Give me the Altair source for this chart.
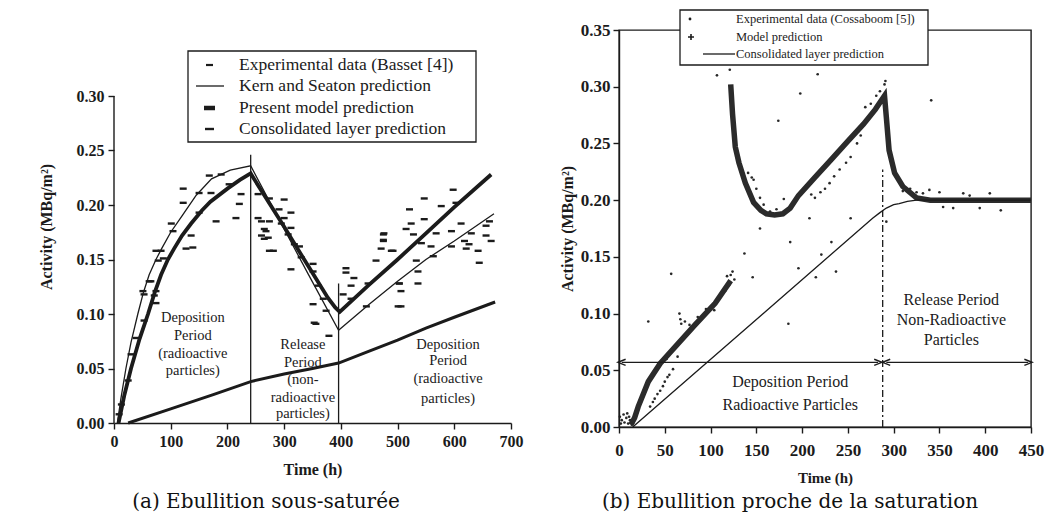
import altair as alt
import pandas as pd

FONT = "Liberation Serif"
CAP_FONT = "DejaVu Serif"
INK = "#1b1b1b"

# ---------------- (a) Ebullition sous-saturee ----------------
kern_t = [6, 12, 21, 30, 42, 52, 62, 74, 84, 100, 120, 145, 172, 205, 241, 300, 342, 396, 450, 500, 550, 600, 670]
kern_v = [0.0, 0.022, 0.05, 0.074, 0.10, 0.12, 0.136, 0.15, 0.16, 0.175, 0.19, 0.209, 0.224, 0.232, 0.236,
          0.178, 0.137, 0.085, 0.109, 0.130, 0.150, 0.167, 0.192]

model_a_t = [8, 18, 30, 45, 60, 72, 83, 95, 106, 120, 136, 155, 170, 200, 222, 241, 260, 300, 340, 377, 390, 398,
             450, 500, 550, 600, 665]
model_a_v = [0.0, 0.025, 0.05, 0.077, 0.10, 0.12, 0.136, 0.15, 0.16, 0.172, 0.183, 0.195, 0.203, 0.215, 0.223, 0.229,
             0.213, 0.180, 0.146, 0.115, 0.106, 0.102, 0.127, 0.150, 0.174, 0.198, 0.228]

layer_a_t = [25, 100, 175, 241, 300, 350, 396, 450, 500, 550, 600, 672]
layer_a_v = [0.0, 0.013, 0.026, 0.038, 0.045, 0.05, 0.055, 0.066, 0.076, 0.087, 0.097, 0.111]

exp_a_t = [122, 150, 168, 189, 203, 171, 122, 150, 180, 215, 221, 224, 136, 139, 127, 101, 104, 83, 78, 65, 51, 71,
           254, 254, 268, 265, 274,
           74, 87, 62, 74, 53, 74, 53, 39, 30, 25, 13, 9,
           274, 300, 291, 312, 260, 274, 300, 295, 312, 265, 260, 307, 272, 281, 318, 327, 330, 351, 351, 312, 360,
           369, 351, 374, 356, 409, 409, 423, 418, 404, 418, 448, 475, 475, 471, 489, 462, 445, 503, 501,
           598, 547, 521, 577, 603, 547, 612, 524, 515, 476, 475, 528, 568, 595, 630, 656, 665, 662, 656, 618, 626,
           595, 559, 542, 492, 621, 642, 563, 644, 533, 536, 536, 506, 506, 503, 353, 379]
exp_a_v = [0.215, 0.211, 0.227, 0.228, 0.219, 0.211, 0.202, 0.193, 0.185, 0.188, 0.201, 0.21, 0.172, 0.161, 0.16,
           0.183, 0.176, 0.158, 0.149, 0.13, 0.121, 0.117,
           0.21, 0.188, 0.176, 0.169, 0.158,
           0.158, 0.151, 0.13, 0.121, 0.118, 0.11, 0.094, 0.078, 0.063, 0.039, 0.017, 0.008,
           0.206, 0.205, 0.196, 0.193, 0.185, 0.185, 0.188, 0.183, 0.179, 0.178, 0.172, 0.173, 0.17, 0.158, 0.164,
           0.162, 0.152, 0.146, 0.139, 0.141, 0.126, 0.114, 0.109, 0.103, 0.091, 0.142, 0.138, 0.133, 0.126, 0.118,
           0.114, 0.128, 0.173, 0.167, 0.16, 0.158, 0.149, 0.107, 0.128, 0.107,
           0.214, 0.206, 0.196, 0.199, 0.202, 0.187, 0.183, 0.183, 0.178, 0.174, 0.168, 0.173, 0.174, 0.176, 0.174,
           0.172, 0.167, 0.185, 0.181, 0.167, 0.164, 0.162, 0.162, 0.165, 0.158, 0.16, 0.158, 0.153, 0.147, 0.149,
           0.139, 0.128, 0.121, 0.107, 0.128, 0.092, 0.08]

period_a_t = [241, 396]
period_a_top = [0.246, 0.128]

notes_a_text = ["Deposition", "Period", "(radioactive", "particles)",
                "Release", "Period", "(non-", "radioactive", "particles)",
                "Deposition", "Period", "(radioactive", "particles)"]
notes_a_t = [139, 139, 139, 139, 333, 333, 333, 333, 333, 589, 589, 589, 589]
notes_a_v = [0.096, 0.080, 0.063, 0.048, 0.072, 0.055, 0.039, 0.023, 0.008, 0.072, 0.057, 0.040, 0.022]

legend_a = ["Experimental data (Basset [4])", "Kern and Seaton prediction",
            "Present model prediction", "Consolidated layer prediction"]
xticks_a = [0, 100, 200, 300, 400, 500, 600, 700]
yticks_a = [0.0, 0.05, 0.10, 0.15, 0.20, 0.25, 0.30]
caption_a = "(a) Ebullition sous-saturée"

# ---------------- (b) Ebullition proche de la saturation ----------------
model_b_seg = ["1"] * 10 + ["2"] * 27
model_b_t = [13, 17, 21, 26, 32, 45, 64, 83, 105, 122,
             122, 124, 127, 131, 138, 147, 155, 161, 170, 179, 187, 196, 214, 232, 250, 267, 280, 290,
             292, 295, 301, 310, 325, 340, 350, 400, 450]
model_b_v = [0.002, 0.008, 0.018, 0.028, 0.04, 0.056, 0.073, 0.09, 0.109, 0.129,
             0.302, 0.276, 0.247, 0.233, 0.215, 0.198, 0.191, 0.188, 0.187, 0.188, 0.193, 0.204, 0.220, 0.236,
             0.252, 0.267, 0.280, 0.292,
             0.273, 0.244, 0.224, 0.212, 0.202, 0.200, 0.200, 0.200, 0.200]

layer_b_t = [15, 277, 285, 292, 300, 306, 315, 325, 340, 450]
layer_b_v = [0.0, 0.184, 0.189, 0.193, 0.196, 0.197, 0.199, 0.20, 0.20, 0.20]

exp_b_t = [1, 3, 5, 6, 8, 10, 12, 14, 16, 2, 9, 11,
           34, 37, 39, 42, 45, 48, 50, 53, 55, 59, 64, 52,
           66, 67, 68, 72, 77, 86, 95, 104, 110, 116, 120, 122, 124, 126, 118,
           141, 145, 147, 150, 154, 158, 165, 172, 180, 187, 203, 210, 214, 220, 225, 230, 235, 241, 248, 253, 260,
           264, 269, 275, 281, 285, 290, 291,
           325, 332, 339, 350, 365, 376, 383, 394, 405, 417, 354, 310, 318,
           121, 198, 341, 217, 174, 154, 208, 253, 232, 187, 292, 221, 57, 146, 32, 185, 196, 215, 237, 137, 107]
exp_b_v = [0.009, 0.006, 0.011, 0.004, 0.008, 0.003, 0.006, 0.002, 0.004, 0.003, 0.012, 0.009,
           0.018, 0.022, 0.025, 0.029, 0.032, 0.036, 0.04, 0.044, 0.046, 0.051, 0.062, 0.06,
           0.1, 0.095, 0.091, 0.093, 0.09, 0.097, 0.104, 0.103, 0.115, 0.12, 0.125, 0.134, 0.137, 0.130, 0.133,
           0.224, 0.22, 0.218, 0.21, 0.202, 0.196, 0.19, 0.192, 0.201, 0.192, 0.211, 0.205, 0.202, 0.207, 0.21,
           0.215, 0.221, 0.227, 0.233, 0.238, 0.25, 0.257, 0.282, 0.285, 0.292, 0.296, 0.302, 0.305,
           0.207, 0.206, 0.209, 0.207, 0.193, 0.206, 0.204, 0.193, 0.206, 0.191, 0.194, 0.208, 0.21,
           0.315, 0.294, 0.288, 0.311, 0.27, 0.175, 0.184, 0.184, 0.163, 0.163, 0.181, 0.152, 0.135, 0.132, 0.093,
           0.091, 0.14, 0.132, 0.137, 0.153, 0.31]

boundary_b_t = [288]
boundary_b_top = [0.227]
arrow_b_start = [3, 292]
arrow_b_end = [283, 447]
arrow_b_v = [0.057, 0.057]

notes_b_text = ["Deposition Period", "Radioactive Particles", "Release Period", "Non-Radioactive", "Particles"]
notes_b_t = [187, 187, 363, 363, 363]
notes_b_v = [0.040, 0.019, 0.112, 0.094, 0.077]

legend_b = ["Experimental data (Cossaboom [5])", "Model prediction", "Consolidated layer prediction"]
xticks_b = [0, 50, 100, 150, 200, 250, 300, 350, 400, 450]
yticks_b = [0.0, 0.05, 0.10, 0.15, 0.20, 0.25, 0.30, 0.35]
caption_b = "(b) Ebullition proche de la saturation"

one = pd.DataFrame({"k": [0]})


def axis(values, title, fmt, lsize, tsize, lpad, tpad, domain=True):
    return alt.Axis(values=values, title=title, format=fmt, grid=False, labelFont=FONT, titleFont=FONT,
                    labelFontSize=lsize, titleFontSize=tsize, labelFontWeight="bold", titleFontWeight="bold",
                    labelColor=INK, titleColor=INK, domain=domain, domainColor=INK, tickColor=INK,
                    domainWidth=1.4, tickWidth=1.4, tickSize=6, labelPadding=lpad, titlePadding=tpad,
                    labelFlush=False, labelOverlap=False)


# ---------------- panel (a) ----------------
# plot area shares its top with panel (b); the value axis stops at its last tick
H_A = 393
Y_TOP_A = yticks_a[-1] * H_A / 327
XA = alt.X("t:Q", scale=alt.Scale(domain=[0, 700], nice=False),
           axis=axis(xticks_a, "Time (h)", "d", 16, 16, 4, 12))
YA = alt.Y("v:Q", scale=alt.Scale(domain=[0, Y_TOP_A], nice=False),
           axis=axis(yticks_a, "Activity (MBq/m²)", ".2f", 16, 16, 4, 22, domain=False))

kern_df = pd.DataFrame({"t": kern_t, "v": kern_v})
model_a_df = pd.DataFrame({"t": model_a_t, "v": model_a_v})
layer_a_df = pd.DataFrame({"t": layer_a_t, "v": layer_a_v})
exp_a_df = pd.DataFrame({"t": exp_a_t, "v": exp_a_v})
period_a_df = pd.DataFrame({"t": period_a_t, "v": [0.0] * len(period_a_t), "v2": period_a_top})
notes_a_df = pd.DataFrame({"t": notes_a_t, "v": notes_a_v, "txt": notes_a_text})
yaxis_a_df = pd.DataFrame({"t": [xticks_a[0]], "v": [yticks_a[0]], "v2": [yticks_a[-1]]})

DASH = "M-1,0L1,0"
OFF = 66  # vertical offset of panel (a) decorations
la = []
la.append(alt.Chart(one).mark_rect(fill="white", stroke=INK, strokeWidth=1.3).encode(
    x=alt.value(74), x2=alt.value(362), y=alt.value(-45 + OFF), y2=alt.value(46 + OFF)))
la.append(alt.Chart(yaxis_a_df).mark_rule(color=INK, strokeWidth=1.4).encode(x=XA, y=YA, y2="v2:Q"))
la.append(alt.Chart(exp_a_df).mark_point(shape=DASH, filled=False, color=INK, strokeWidth=2.4, size=49,
                                         opacity=1).encode(x=XA, y=YA))
la.append(alt.Chart(kern_df).mark_line(color=INK, strokeWidth=1.3).encode(x=XA, y=YA))
la.append(alt.Chart(model_a_df).mark_line(color=INK, strokeWidth=3.8).encode(x=XA, y=YA))
la.append(alt.Chart(layer_a_df).mark_line(color=INK, strokeWidth=3.0).encode(x=XA, y=YA))
la.append(alt.Chart(period_a_df).mark_rule(color=INK, strokeWidth=1.3).encode(x=XA, y=YA, y2="v2:Q"))
la.append(alt.Chart(notes_a_df).mark_text(font=FONT, fontSize=14.5, color=INK, align="center",
                                          baseline="middle").encode(x=XA, y=YA, text="txt:N"))
# legend entries
rows_a = [-31 + OFF, -10 + OFF, 12 + OFF, 33 + OFF]
la.append(alt.Chart(one).mark_rule(color=INK, strokeWidth=2.2).encode(
    x=alt.value(92), x2=alt.value(99), y=alt.value(rows_a[0])))
la.append(alt.Chart(one).mark_rule(color=INK, strokeWidth=1.3).encode(
    x=alt.value(82), x2=alt.value(110), y=alt.value(rows_a[1])))
la.append(alt.Chart(one).mark_rule(color=INK, strokeWidth=4.5).encode(
    x=alt.value(90), x2=alt.value(101), y=alt.value(rows_a[2])))
la.append(alt.Chart(one).mark_rule(color=INK, strokeWidth=2.4).encode(
    x=alt.value(91), x2=alt.value(100), y=alt.value(rows_a[3])))
for lab, ry in zip(legend_a, rows_a):
    la.append(alt.Chart(one).mark_text(text=lab, font=FONT, fontSize=17.5, color=INK, align="left",
                                       baseline="middle").encode(x=alt.value(125), y=alt.value(ry)))
# layout anchors (invisible)
la.append(alt.Chart(one).mark_rule(color="white", strokeWidth=0.5).encode(
    x=alt.value(-105), y=alt.value(60), y2=alt.value(66)))
la.append(alt.Chart(one).mark_rule(color="white", strokeWidth=0.5).encode(
    x=alt.value(427), y=alt.value(60), y2=alt.value(66)))
la.append(alt.Chart(one).mark_text(text=caption_a, font=CAP_FONT, fontSize=20, color="#111111",
                                   align="center", baseline="middle").encode(
    x=alt.value(152), y=alt.value(406 + OFF)))

left = alt.layer(*la).properties(width=397, height=H_A, view=alt.ViewBackground(stroke="transparent"))

# ---------------- panel (b) ----------------
XB = alt.X("t:Q", scale=alt.Scale(domain=[0, 450], nice=False),
           axis=axis(xticks_b, "Time (h)", "d", 17, 15, 9, 12))
YB = alt.Y("v:Q", scale=alt.Scale(domain=[0, 0.35], nice=False),
           axis=axis(yticks_b, "Activity (MBq/m²)", ".2f", 17, 16, 3, 5))

model_b_df = pd.DataFrame({"t": model_b_t, "v": model_b_v, "seg": model_b_seg})
layer_b_df = pd.DataFrame({"t": layer_b_t, "v": layer_b_v})
exp_b_df = pd.DataFrame({"t": exp_b_t, "v": exp_b_v})
boundary_df = pd.DataFrame({"t": boundary_b_t, "v": [0.0], "v2": boundary_b_top})
arrow_df = pd.DataFrame({"t": arrow_b_start, "t2": arrow_b_end, "v": arrow_b_v})
head_l = pd.DataFrame({"t": arrow_b_start, "v": arrow_b_v})
head_r = pd.DataFrame({"t": arrow_b_end, "v": arrow_b_v})
notes_b_df = pd.DataFrame({"t": notes_b_t, "v": notes_b_v, "txt": notes_b_text})

lb = []
lb.append(alt.Chart(one).mark_rect(fill="white", stroke=INK, strokeWidth=1.3).encode(
    x=alt.value(61), x2=alt.value(309), y=alt.value(-20), y2=alt.value(35)))
lb.append(alt.Chart(exp_b_df).mark_circle(color=INK, size=7, opacity=0.95).encode(x=XB, y=YB))
lb.append(alt.Chart(model_b_df).mark_line(color="#2b2b2b", strokeWidth=5.5).encode(x=XB, y=YB, detail="seg:N"))
lb.append(alt.Chart(layer_b_df).mark_line(color=INK, strokeWidth=1.3).encode(x=XB, y=YB))
lb.append(alt.Chart(boundary_df).mark_rule(color=INK, strokeWidth=1.3, strokeDash=[7, 3, 2, 3]).encode(
    x=XB, y=YB, y2="v2:Q"))
lb.append(alt.Chart(arrow_df).mark_rule(color=INK, strokeWidth=1.3).encode(x=XB, x2="t2:Q", y=YB))
lb.append(alt.Chart(head_l).mark_point(shape="M1,-0.8L-1,0L1,0.8", filled=False, color=INK, strokeWidth=1.4,
                                       size=60, opacity=1).encode(x=XB, y=YB))
lb.append(alt.Chart(head_r).mark_point(shape="M-1,-0.8L1,0L-1,0.8", filled=False, color=INK, strokeWidth=1.4,
                                       size=60, opacity=1).encode(x=XB, y=YB))
lb.append(alt.Chart(notes_b_df).mark_text(font=FONT, fontSize=16, color=INK, align="center",
                                          baseline="middle").encode(x=XB, y=YB, text="txt:N"))
rows_b = [-11, 7, 24]
lb.append(alt.Chart(one).mark_circle(color=INK, size=8, opacity=1).encode(x=alt.value(71), y=alt.value(rows_b[0])))
lb.append(alt.Chart(one).mark_point(shape="M-1,0L1,0M0,-1L0,1", filled=False, color=INK, strokeWidth=1.6,
                                    size=36, opacity=1).encode(x=alt.value(72), y=alt.value(rows_b[1])))
lb.append(alt.Chart(one).mark_rule(color=INK, strokeWidth=1.3).encode(
    x=alt.value(84), x2=alt.value(116), y=alt.value(rows_b[2])))
for lab, ry in zip(legend_b, rows_b):
    lb.append(alt.Chart(one).mark_text(text=lab, font=FONT, fontSize=12.5, color=INK, align="left",
                                       baseline="middle").encode(x=alt.value(117), y=alt.value(ry)))
lb.append(alt.Chart(one).mark_rule(color="white", strokeWidth=0.5).encode(
    x=alt.value(-76), y=alt.value(0), y2=alt.value(6)))
lb.append(alt.Chart(one).mark_text(text=caption_b, font=CAP_FONT, fontSize=20, color="#111111",
                                   align="center", baseline="middle").encode(
    x=alt.value(171), y=alt.value(472)))

right = alt.layer(*lb).properties(width=412, height=397,
                                  view=alt.ViewBackground(stroke=INK, strokeWidth=1.4))

chart = alt.hconcat(left, right, spacing=0).properties(padding=0, background="white")

chart.save("out.html", embed_options={"renderer": "svg", "actions": False})
